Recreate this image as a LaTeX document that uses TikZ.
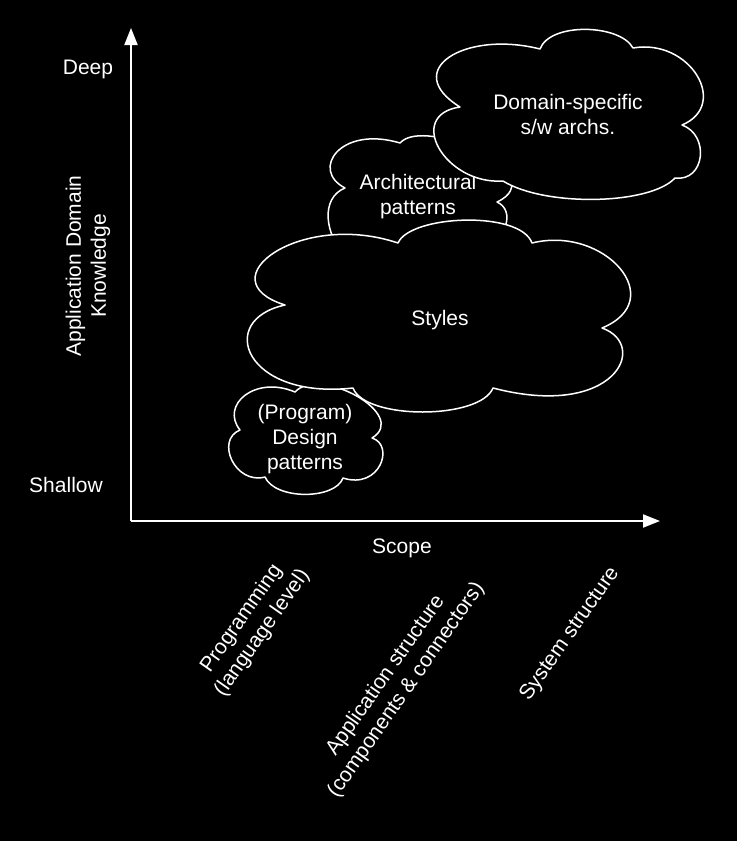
\documentclass[tikz,border=0pt]{standalone}
\usepackage{fontspec}
\setmainfont{Liberation Sans}
\usetikzlibrary{arrows.meta}
\begin{document}
\begin{tikzpicture}[x=1pt,y=-1pt,
  lbl/.style={text=white,align=center,inner sep=0pt,font=\fontsize{21}{25}\selectfont},
  cloudline/.style={draw=white,fill=black,line width=1.5pt,line join=round},
  axis/.style={draw=white,line width=2pt,-{Triangle[length=17pt,width=13pt]}}]
% page
\fill[black] (0,0) rectangle (737,841);
\path[use as bounding box] (0,0) rectangle (737,841);

% axes
\coordinate (o) at (131,521);
\coordinate (ytip) at (131,28);
\coordinate (xtip) at (660,521);
\draw[axis] (o) -- (ytip);
\draw[axis] (o) -- (xtip);

% axis labels
\node[lbl] (deep) at (88,69) {Deep};
\node[lbl] (shallow) at (66,485) {Shallow};
\node[lbl,rotate=90] (know) at (88,266) {Application Domain\\Knowledge};
\node[lbl] (scope) at (402,548) {Scope};
\node[lbl,rotate=55] (prog) at (252,626) {Programming\\(language level)};
\node[lbl,rotate=55] (appl) at (396,683) {Application structure\\(components \& connectors)};
\node[lbl,rotate=55] (sys) at (570,634) {System structure};

% architectural patterns cloud (partly covered)
\path[cloudline] (345,188)
  .. controls (310,170) and (340,125) .. (400,143)
  .. controls (425,115) and (555,175) .. (497,202)
  .. controls (515,210) and (510,240) .. (470,260)
  -- (345,255)
  .. controls (325,235) and (320,198) .. cycle;
\node[lbl] (arch) at (418,197) {Architectural\\patterns};

% domain-specific architectures cloud
\path[cloudline] (460,107)
  .. controls (400,70) and (465,30) .. (540,49)
  .. controls (550,22) and (620,24) .. (633,48)
  .. controls (690,38) and (730,105) .. (682,125)
  .. controls (710,135) and (705,182) .. (675,178)
  .. controls (650,205) and (545,207) .. (503,181)
  .. controls (445,185) and (405,115) .. cycle;
\node[lbl] (dssa) at (568,114) {Domain-specific\\s/w archs.};

% design patterns cloud
\path[cloudline] (240,430)
  .. controls (220,405) and (255,375) .. (295,392)
  .. controls (320,365) and (410,415) .. (372,438)
  .. controls (395,445) and (380,490) .. (343,478)
  .. controls (335,500) and (275,500) .. (265,477)
  .. controls (235,485) and (215,440) .. cycle;
\node[lbl] (design) at (305,439) {(Program)\\Design\\patterns};

% styles cloud
\path[cloudline] (285,305)
  .. controls (205,280) and (300,210) .. (398,243)
  .. controls (410,215) and (520,210) .. (532,243)
  .. controls (605,225) and (670,300) .. (602,328)
  .. controls (650,345) and (615,420) .. (493,388)
  .. controls (480,420) and (365,420) .. (353,388)
  .. controls (245,400) and (215,320) .. cycle;
\node[lbl] (styles) at (440,320) {Styles};
\end{tikzpicture}
\end{document}
